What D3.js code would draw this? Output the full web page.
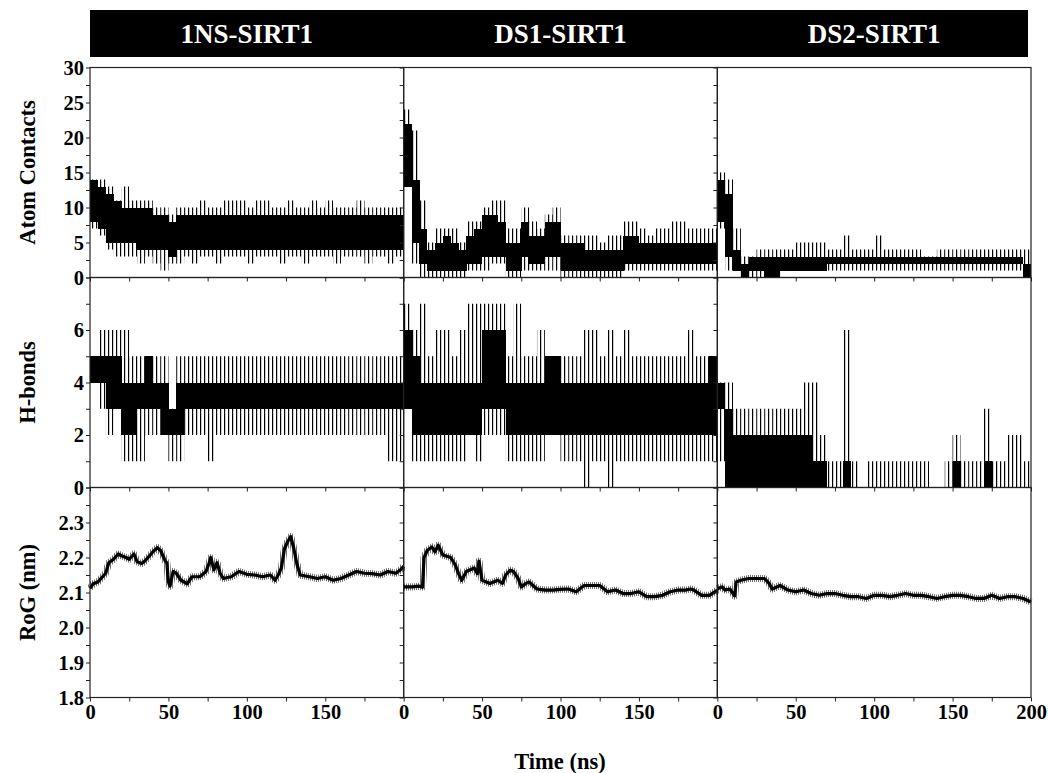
<!DOCTYPE html>
<html>
<head>
<meta charset="utf-8">
<script src="https://cdn.jsdelivr.net/npm/d3@7"></script>
<style>
  body { margin: 0; background: #fff; }
  text { font-family: "Liberation Serif", "Times New Roman", serif; font-weight: bold; }
</style>
</head>
<body>
<svg id="chart" width="1048" height="773"></svg>
<script>
const systems = ['1NS-SIRT1', 'DS1-SIRT1', 'DS2-SIRT1'];
const binSize = 5; // ns per bin for the contact / h-bond traces

// Atom contacts per 5 ns bin: dense band (lo..hi) and spike extremes (min..max)
const contacts1NSLo  = [8,7,5,5,5,5,4,4,4,4,3,4,4,4,4,4,4,4,4,4,4,4,4,4,4,4,4,4,4,4,4,4,4,4,4,4,4,4,4,4];
const contacts1NSHi  = [14,13,12,11,10,10,10,10,9,9,8,9,9,9,9,9,9,9,9,9,9,9,9,9,9,9,9,9,9,9,9,9,9,9,9,9,9,9,9,9];
const contacts1NSMin = [7,6,4,3,3,3,2,3,2,1,2,2,3,2,3,3,2,3,3,3,2,3,3,3,2,3,3,2,3,3,3,2,3,3,3,2,3,3,2,3];
const contacts1NSMax = [14,14,13,11,13,11,11,11,10,10,9,10,10,10,11,10,10,11,11,11,10,11,11,10,10,11,10,10,11,10,11,10,10,10,11,10,10,10,10,10];

const contactsDS1Lo  = [13,5,2,1,1,1,1,1,2,2,3,3,3,1,1,3,2,2,3,3,1,1,1,1,1,1,1,1,2,2,2,2,2,2,2,2,2,2,2,2];
const contactsDS1Hi  = [22,14,7,4,5,6,5,4,6,7,9,9,8,5,5,8,6,6,8,8,5,5,5,4,4,4,4,4,6,6,5,5,5,5,5,5,5,5,5,5];
const contactsDS1Min = [13,2,0,0,0,0,0,0,1,1,1,2,2,0,0,1,1,1,1,1,0,0,0,0,0,0,0,0,1,1,1,1,1,1,1,1,1,1,1,1];
const contactsDS1Max = [24,21,11,5,7,7,7,5,8,8,10,11,11,7,7,10,8,7,9,10,6,6,6,6,6,5,6,6,8,8,7,6,7,7,8,8,7,7,7,7];

const contactsDS2Lo  = [8,3,1,0,1,1,0,0,1,1,1,1,1,1,2,2,2,2,2,2,2,2,2,2,2,2,2,2,2,2,2,2,2,2,2,2,2,2,2,0];
const contactsDS2Hi  = [14,12,4,2,3,3,3,3,3,3,3,3,3,3,3,3,3,3,3,3,3,3,3,3,3,3,3,3,3,3,3,3,3,3,3,3,3,3,3,2];
const contactsDS2Min = [7,1,1,0,0,0,0,0,1,1,1,1,1,1,1,1,1,1,1,1,1,1,1,1,1,1,1,1,1,1,1,1,1,1,1,1,1,1,1,0];
const contactsDS2Max = [15,14,7,3,3,4,4,4,4,4,5,5,5,5,4,4,6,4,4,4,6,4,4,4,4,4,3,3,4,4,4,4,4,4,4,4,4,4,4,4];

// H-bonds per 5 ns bin
const hbond1NSLo  = [4,4,3,3,2,2,3,3,3,2,2,2,3,3,3,3,3,3,3,3,3,3,3,3,3,3,3,3,3,3,3,3,3,3,3,3,3,3,3,3];
const hbond1NSHi  = [5,5,5,5,4,4,4,5,4,4,3,4,4,4,4,4,4,4,4,4,4,4,4,4,4,4,4,4,4,4,4,4,4,4,4,4,4,4,4,4];
const hbond1NSMin = [4,3,2,3,1,1,1,2,2,2,1,1,2,2,2,1,2,2,2,2,2,2,2,2,2,2,2,2,2,2,2,2,2,2,2,2,2,2,1,1];
const hbond1NSMax = [5,6,6,6,6,5,5,5,5,5,3,5,5,5,5,5,5,5,5,5,5,5,5,5,5,5,5,5,5,5,5,5,5,5,5,5,5,5,5,5];

const hbondDS1Lo  = [3,2,2,2,2,2,2,2,2,2,3,3,3,2,2,2,2,2,2,2,2,2,2,2,2,2,2,2,2,2,2,2,2,2,2,2,2,2,2,2];
const hbondDS1Hi  = [6,5,4,4,4,4,4,4,4,4,6,6,6,4,4,4,4,4,5,5,4,4,4,4,4,4,4,4,4,4,4,4,4,4,4,4,4,4,4,5];
const hbondDS1Min = [3,1,1,1,1,1,1,1,2,1,2,2,2,1,1,1,1,1,2,2,1,1,1,0,1,1,0,1,1,1,1,1,1,1,1,1,1,1,1,1];
const hbondDS1Max = [7,6,7,5,6,6,5,6,7,7,7,7,7,5,7,5,5,6,5,5,5,5,5,6,6,5,6,5,6,5,5,5,5,5,5,5,6,5,5,5];

const hbondDS2Lo  = [3,0,0,0,0,0,0,0,0,0,0,0,0,0,0,0,0,0,0,0,0,0,0,0,0,0,0,0,0,0,0,0,0,0,0,0,0,0,0,0];
const hbondDS2Hi  = [4,3,2,2,2,2,2,2,2,2,2,2,1,1,0,0,1,0,0,0,0,0,0,0,0,0,0,0,0,0,1,0,0,0,1,0,0,0,0,0];
const hbondDS2Min = [1,0,0,0,0,0,0,0,0,0,0,0,0,0,0,0,0,0,0,0,0,0,0,0,0,0,0,0,0,0,0,0,0,0,0,0,0,0,0,0];
const hbondDS2Max = [4,4,3,3,3,3,3,3,3,3,3,4,4,2,1,1,6,1,0,1,1,1,1,1,1,1,1,0,0,1,2,1,1,1,3,1,1,2,2,1];

// Radius of gyration, [time (ns), RoG (nm)]
const rog1NS = [[0,2.112],[2,2.125],[5,2.13],[8,2.145],[10,2.155],[12,2.185],[15,2.195],[18,2.21],[20,2.205],
  [23,2.2],[25,2.195],[28,2.21],[30,2.188],[33,2.183],[35,2.19],[38,2.205],[40,2.216],[43,2.228],[45,2.22],
  [48,2.19],[49,2.185],[50,2.13],[51,2.118],[53,2.16],[55,2.155],[58,2.135],[60,2.13],[62,2.125],[65,2.145],
  [70,2.145],[74,2.16],[76,2.185],[77,2.2],[79,2.165],[81,2.185],[83,2.155],[85,2.14],[90,2.145],[95,2.16],
  [100,2.152],[105,2.15],[110,2.145],[115,2.15],[118,2.135],[120,2.15],[122,2.17],[124,2.225],[126,2.245],
  [128,2.26],[130,2.225],[132,2.18],[134,2.15],[140,2.145],[145,2.14],[150,2.145],[155,2.135],[160,2.14],
  [165,2.15],[170,2.16],[175,2.155],[180,2.154],[185,2.15],[190,2.16],[195,2.155],[198,2.165],[200,2.175]];
const rogDS1 = [[0,2.116],[5,2.116],[10,2.118],[12,2.115],[13,2.2],[15,2.22],[18,2.23],[20,2.216],[22,2.235],
  [25,2.207],[30,2.2],[33,2.178],[35,2.154],[37,2.135],[40,2.16],[45,2.17],[47,2.154],[48,2.19],[50,2.135],
  [55,2.126],[60,2.135],[63,2.126],[65,2.15],[68,2.164],[70,2.16],[73,2.14],[75,2.116],[78,2.126],[80,2.13],
  [85,2.11],[90,2.107],[95,2.107],[100,2.109],[105,2.11],[110,2.102],[115,2.12],[120,2.12],[125,2.12],
  [130,2.102],[135,2.107],[140,2.097],[145,2.097],[150,2.102],[155,2.088],[160,2.088],[165,2.092],[170,2.102],
  [175,2.107],[180,2.107],[183,2.11],[185,2.107],[190,2.092],[195,2.092],[200,2.107]];
const rogDS2 = [[0,2.111],[3,2.116],[5,2.107],[8,2.11],[10,2.097],[11,2.09],[12,2.13],[15,2.135],[20,2.14],
  [25,2.14],[30,2.14],[33,2.126],[35,2.11],[40,2.12],[45,2.107],[50,2.102],[55,2.107],[60,2.097],[65,2.092],
  [70,2.097],[75,2.097],[80,2.092],[85,2.088],[90,2.088],[95,2.083],[100,2.092],[105,2.092],[110,2.088],
  [115,2.092],[120,2.097],[125,2.092],[130,2.092],[135,2.088],[140,2.083],[145,2.088],[150,2.092],[155,2.092],
  [160,2.088],[165,2.083],[170,2.083],[175,2.092],[180,2.083],[185,2.088],[190,2.088],[195,2.083],[200,2.073]];

const toBins = (lo, hi, mn, mx) => lo.map((v, i) => ({t: i * binSize, lo: v, hi: hi[i], min: mn[i], max: mx[i]}));

const rows = [
  {
    label: 'Atom Contacts', domain: [0, 30], type: 'bins',
    ticks: d3.range(0, 13).map(d => d * 2.5), isMajor: d => d % 5 === 0, fmt: d3.format('d'),
    series: [
      toBins(contacts1NSLo, contacts1NSHi, contacts1NSMin, contacts1NSMax),
      toBins(contactsDS1Lo, contactsDS1Hi, contactsDS1Min, contactsDS1Max),
      toBins(contactsDS2Lo, contactsDS2Hi, contactsDS2Min, contactsDS2Max)
    ]
  },
  {
    label: 'H-bonds', domain: [0, 8], type: 'bins',
    ticks: d3.range(0, 9), isMajor: d => d % 2 === 0 && d < 8, fmt: d3.format('d'),
    series: [
      toBins(hbond1NSLo, hbond1NSHi, hbond1NSMin, hbond1NSMax),
      toBins(hbondDS1Lo, hbondDS1Hi, hbondDS1Min, hbondDS1Max),
      toBins(hbondDS2Lo, hbondDS2Hi, hbondDS2Min, hbondDS2Max)
    ]
  },
  {
    label: 'RoG (nm)', domain: [1.8, 2.4], type: 'line',
    ticks: d3.range(36, 49).map(d => d / 20), isMajor: d => Math.round(d * 20) % 2 === 0 && d < 2.35, fmt: d3.format('.1f'),
    series: [rog1NS, rogDS1, rogDS2]
  }
];

const plotLeft = 90, plotRight = 1031, plotTop = 67.5, rowH = 210;
const colW = (plotRight - plotLeft) / 3;
const svg = d3.select('#chart');
const defs = svg.append('defs');

// thin vertical strokes standing in for the dense frame-by-frame spikes
defs.append('pattern')
  .attr('id', 'spikes')
  .attr('patternUnits', 'userSpaceOnUse')
  .attr('width', 4).attr('height', 10)
  .append('rect').attr('width', 1.2).attr('height', 10).attr('fill', '#000');
defs.append('pattern')
  .attr('id', 'fuzz')
  .attr('patternUnits', 'userSpaceOnUse')
  .attr('width', 2).attr('height', 10)
  .append('rect').attr('width', 1).attr('height', 10).attr('fill', '#000');

// header bar with system names
svg.append('rect')
  .attr('x', plotLeft).attr('y', 10)
  .attr('width', plotRight - plotLeft - 3).attr('height', 47)
  .attr('fill', '#000');
systems.forEach((name, c) => {
  svg.append('text')
    .attr('x', plotLeft + c * colW + colW / 2).attr('y', 43)
    .attr('text-anchor', 'middle')
    .attr('fill', '#fff')
    .attr('font-size', 27)
    .text(name);
});

const styleAxis = g => {
  g.attr('font-size', null).attr('font-family', null);
  g.selectAll('text').attr('font-size', 20.5).attr('fill', '#000');
  g.selectAll('line').attr('stroke', '#222');
  g.select('.domain').remove();
};

rows.forEach((row, r) => {
  const y0 = plotTop + r * rowH;
  const y = d3.scaleLinear().domain(row.domain).range([y0 + rowH, y0]);

  row.series.forEach((data, c) => {
    const x0 = plotLeft + c * colW;
    const x = d3.scaleLinear().domain([0, 200]).range([x0, x0 + colW]);
    const g = svg.append('g');

    if (row.type === 'bins') {
      g.selectAll('rect.spike')
        .data(data.filter(d => d.max > d.min))
        .enter().append('rect')
        .attr('class', 'spike')
        .attr('x', d => x(d.t))
        .attr('width', d => x(d.t + binSize) - x(d.t))
        .attr('y', d => y(d.max))
        .attr('height', d => y(d.min) - y(d.max))
        .attr('fill', 'url(#spikes)');
      g.selectAll('rect.band')
        .data(data.filter(d => d.hi > d.lo))
        .enter().append('rect')
        .attr('class', 'band')
        .attr('x', d => x(d.t))
        .attr('width', d => x(d.t + binSize) - x(d.t) + 0.3)
        .attr('y', d => y(d.hi))
        .attr('height', d => y(d.lo) - y(d.hi))
        .attr('fill', '#000')
        .attr('shape-rendering', 'crispEdges');
    } else {
      const line = d3.line().x(d => x(d[0])).y(d => y(d[1]));
      g.append('path')
        .datum(data)
        .attr('fill', 'none')
        .attr('stroke', 'url(#fuzz)')
        .attr('stroke-opacity', 0.55)
        .attr('stroke-width', 7)
        .attr('stroke-linejoin', 'round')
        .attr('d', line);
      g.append('path')
        .datum(data)
        .attr('fill', 'none')
        .attr('stroke', '#000')
        .attr('stroke-width', 3.2)
        .attr('stroke-linejoin', 'round')
        .attr('d', line);
    }

    // panel frame
    svg.append('rect')
      .attr('x', x0).attr('y', y0)
      .attr('width', colW).attr('height', rowH)
      .attr('fill', 'none')
      .attr('stroke', '#222').attr('stroke-width', 1.2);

    // left axis
    svg.append('g')
      .attr('transform', `translate(${x0},0)`)
      .call(d3.axisLeft(y).tickValues(row.ticks).tickSize(4).tickSizeOuter(0).tickPadding(2)
        .tickFormat(d => (c === 0 && row.isMajor(d)) ? row.fmt(d) : ''))
      .call(styleAxis);

    // bottom axis
    const xt = d3.range(0, c === 2 ? 201 : 176, 25);
    svg.append('g')
      .attr('transform', `translate(0,${y0 + rowH})`)
      .call(d3.axisBottom(x).tickValues(xt).tickSize(4).tickSizeOuter(0).tickPadding(3)
        .tickFormat(d => (r === 2 && d % 50 === 0) ? d : ''))
      .call(styleAxis);
  });

  svg.append('text')
    .attr('transform', `translate(35,${y0 + rowH / 2}) rotate(-90)`)
    .attr('text-anchor', 'middle')
    .attr('font-size', 22.5)
    .text(row.label);
});

svg.append('text')
  .attr('x', 560).attr('y', 769)
  .attr('text-anchor', 'middle')
  .attr('font-size', 22.5)
  .text('Time (ns)');
</script>
</body>
</html>
